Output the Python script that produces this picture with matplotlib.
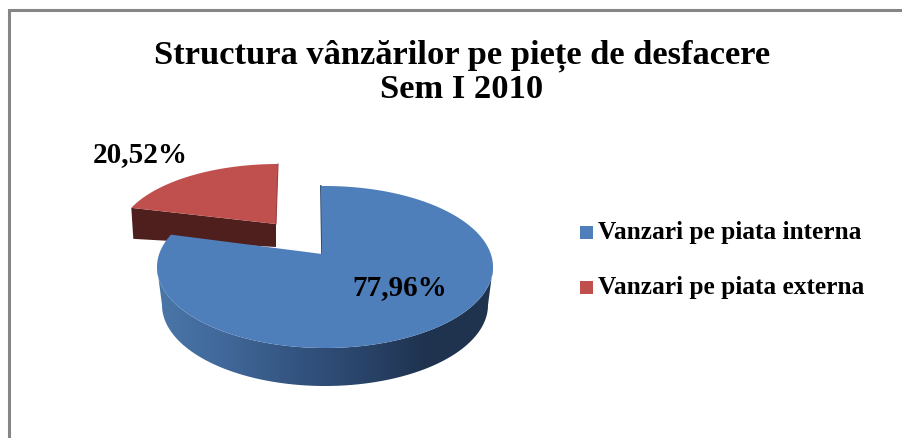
import numpy as np
import matplotlib

matplotlib.use("Agg")
import matplotlib.pyplot as plt
from matplotlib.colors import LinearSegmentedColormap
from matplotlib.patches import Polygon, Rectangle

title = "Structura vânzărilor pe piețe de desfacere\nSem I 2010"
labels = ["Vanzari pe piata interna", "Vanzari pe piata externa"]
values = [77.96, 20.52]
value_labels = ["77,96%", "20,52%"]
colors = ["#4f7fbb", "#c0504d"]

FONT = "Liberation Serif"
W, H = 902, 438

# the 3d look: tilted ellipses, sizes in pixels of the picture
BLUE_C = (325, 267)
BLUE_R = (168, 81)
BLUE_APEX = (322, 254)
BLUE_START = -1.4
BLUE_BOTTOM_C = (325, 305)
BLUE_BOTTOM_R = (163, 81)
RED_C = (278, 237)
RED_R = (160, 73)
RED_APEX = (276, 224)
RED_DEPTH_LEFT, RED_DEPTH_RIGHT = 31, 23
PERSPECTIVE = 1.03  # tilt stretches the big slice a bit


def arc(center, radius, start, end, n=200):
    # angles clockwise from the top, y grows downward
    t = np.radians(np.linspace(start, end, n))
    return np.column_stack([center[0] + radius[0] * np.sin(t), center[1] - radius[1] * np.cos(t)])


fig = plt.figure(figsize=(W / 100, H / 100), dpi=100)
ax = fig.add_axes([0, 0, 1, 1])

boundary = 360 * values[0] / sum(values) * PERSPECTIVE

# frame, only top and left show
ax.plot([9, 9, W], [H, 10, 10], color="#868686", lw=2.2, solid_joinstyle="miter")

# red slice, wall first
red_arc = arc(RED_C, RED_R, boundary, 360)
start_pt = red_arc[0]
wall = [start_pt, RED_APEX, (RED_APEX[0], RED_APEX[1] + RED_DEPTH_RIGHT),
        (start_pt[0] + 2, start_pt[1] + RED_DEPTH_LEFT)]
ax.add_patch(Polygon(wall, closed=True, fc="#4f1f1d", ec="none", zorder=2))
ax.add_patch(Polygon(np.vstack([red_arc, RED_APEX]), closed=True, fc=colors[1], ec="none", zorder=3))
ax.plot([red_arc[-1][0], RED_APEX[0]], [red_arc[-1][1], RED_APEX[1]], color="#9a413e", lw=0.8, zorder=3)

# blue side wall with gradient
top_edge = arc(BLUE_C, BLUE_R, 90, 270)
bottom_edge = arc(BLUE_BOTTOM_C, BLUE_BOTTOM_R, 90, 270)
wall_poly = Polygon(np.vstack([top_edge, bottom_edge[::-1]]), closed=True, fc="none", ec="none")
ax.add_patch(wall_poly)
shade = LinearSegmentedColormap.from_list(
    "wall", ["#4a76a8", "#41689a", "#345581", "#2a456b", "#1f334f", "#1f3350"]
)
grad = ax.imshow(np.linspace(0, 1, 256)[None, :], cmap=shade, aspect="auto",
                 extent=(157, 493, 390, 260), zorder=4)
grad.set_clip_path(wall_poly)

# blue top face
blue_arc = arc(BLUE_C, BLUE_R, BLUE_START, boundary, n=400)
ax.plot([blue_arc[0][0], BLUE_APEX[0]], [blue_arc[0][1], BLUE_APEX[1]], color="#2a456b", lw=1.2, zorder=4)
ax.add_patch(Polygon(np.vstack([blue_arc, BLUE_APEX]), closed=True, fc=colors[0], ec="none", zorder=5))

ax.text(400, 288, value_labels[0], family=FONT, weight="bold", fontsize=21,
        ha="center", va="center", color="black", zorder=6)
ax.text(140, 155, value_labels[1], family=FONT, weight="bold", fontsize=21,
        ha="center", va="center", color="black", zorder=6)

ax.text(462, 72, title, family=FONT, weight="bold", fontsize=24.8, ha="center",
        va="center", linespacing=1.08, color="black")

# legend
for i, (label, color) in enumerate(zip(labels, colors)):
    y = 232.5 + 55 * i
    ax.add_patch(Rectangle((580, y - 6.5), 13, 13, fc=color, ec="none"))
    ax.text(598, y, label, family=FONT, weight="bold", fontsize=18.3, ha="left",
            va="center", color="black")

ax.set_xlim(0, W)
ax.set_ylim(H, 0)
ax.axis("off")

fig.savefig("out.png", dpi=100)
plt.close(fig)
